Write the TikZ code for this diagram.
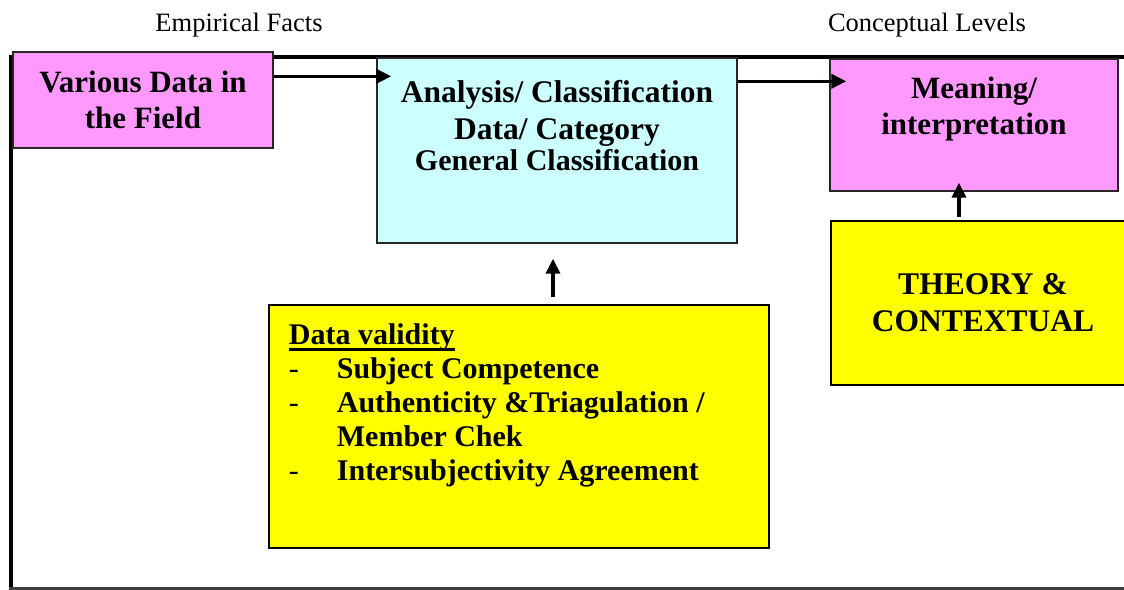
\documentclass[tikz,border=0pt]{standalone}
\usepackage{fontspec}
\setmainfont{Liberation Serif}
\usepackage{xcolor}
\usetikzlibrary{arrows.meta,
                positioning}

\definecolor{fieldpink}{RGB}{255,153,255}
\definecolor{anacyan}{RGB}{204,255,255}
\definecolor{noteyellow}{RGB}{255,255,0}

\newcommand{\ulhead}[1]{\setbox0\hbox{#1}\rlap{\rule[-7pt]{\wd0}{3.2pt}}\box0}
\newcommand{\valitem}[1]{\makebox[48pt][l]{\mdseries -}#1}

\begin{document}
\begin{tikzpicture}[x=1pt,y=-1pt,
  toplabel/.style={font=\fontsize{26.5}{30}\selectfont,inner sep=0pt},
  thinbox/.style={draw=black!85,line width=1.4pt,inner sep=0pt},
  thickbox/.style={draw=black,line width=2.6pt,inner sep=0pt},
  boxtext/.style={font=\bfseries\fontsize{31}{36}\selectfont,align=center,inner sep=0pt},
  flow/.style={line width=3.6pt,-{Triangle[length=15pt,width=14pt]}}]
\clip (0,0) rectangle (1124,589);
\fill[white] (0,0) rectangle (1124,589);

% labels above the frame
\foreach \x/\t/\n in {239/Empirical Facts/emp, 927/Conceptual Levels/con}
  \node[toplabel,anchor=base] (\n) at (\x,31.5) {\t};

% frame
\draw[line width=4.6pt] (1130,57) -- (11,57) -- (11,592);
\draw[line width=3pt,black!75] (9,588) -- (1130,588);

% boxes
\node[thinbox,fill=fieldpink,minimum width=260pt,minimum height=96pt,
      boxtext] (field) at (143,100) {Various Data in\\the Field};
\node[thinbox,fill=anacyan,minimum width=360pt,minimum height=185pt] (ana) at (557,150.5) {};
\node[thinbox,fill=fieldpink,minimum width=288pt,minimum height=132pt] (mean) at (974,125) {};
\node[thickbox,fill=noteyellow,minimum width=304pt,minimum height=164pt,
      boxtext,font=\bfseries\fontsize{31.5}{37}\selectfont] (theo) at (983,303) {THEORY \&\\CONTEXTUAL};
\node[thickbox,fill=noteyellow,minimum width=500pt,minimum height=243pt] (val) at (519,426.5) {};

% texts in the boxes
\node[boxtext,font=\bfseries\fontsize{31.5}{37}\selectfont,below=23pt of ana.north] (anatext)
  {Analysis/ Classification\\Data/ Category\\[-6pt]{\fontsize{30}{31}\selectfont General Classification}};
\node[boxtext,below=18.5pt of mean.north] (meantext) {Meaning/\\interpretation};
\node[font=\bfseries\fontsize{30}{34}\selectfont,align=left,inner sep=0pt,anchor=north west]
  (valtext) at ([xshift=21pt,yshift=-19.5pt]val.north west)
  {\ulhead{Data validity}\\
   \valitem{Subject Competence}\\
   \valitem{Authenticity \&Triagulation /}\\
   \makebox[48pt]{}Member Chek\\
   \valitem{Intersubjectivity Agreement}};

% connectors
\coordinate (f1) at ([yshift=-25pt]field.north east);
\coordinate (a1) at ([yshift=-24pt]ana.north east);
\coordinate (v1) at ([xshift=34pt]val.north);
\coordinate (t1) at ([xshift=-24pt]theo.north);
\draw[flow,shorten >=-15pt] (f1) -- (f1 -| ana.west);
\draw[flow,shorten >=-17pt] (a1) -- (a1 -| mean.west);
\draw[flow,shorten <=7pt,shorten >=15pt] (v1) -- (v1 |- ana.south);
\draw[flow,shorten <=3pt,shorten >=-9pt] (t1) -- (t1 |- mean.south);
\end{tikzpicture}
\end{document}
